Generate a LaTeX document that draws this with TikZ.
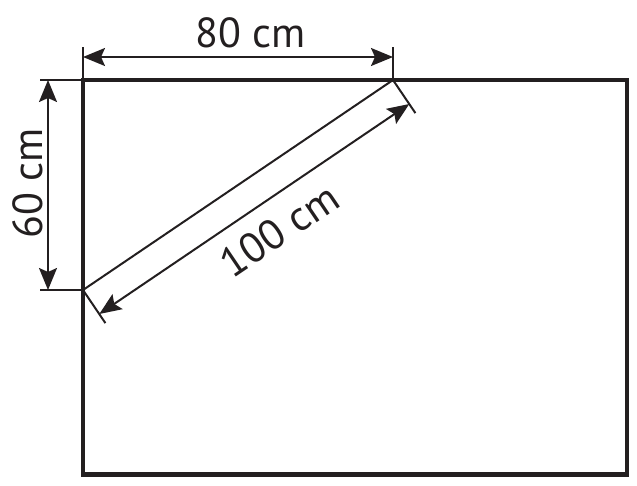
\documentclass[tikz,border=0pt]{standalone}
\usepackage{fontspec}
\setmainfont{PT Sans}
\usetikzlibrary{arrows.meta}
\definecolor{ink}{HTML}{231F20}
\tikzset{
  frame/.style={draw=ink, line width=4.5pt},
  dimline/.style={draw=ink, line width=2pt, {Stealth[length=22pt,width=18pt,inset=4pt]}-{Stealth[length=22pt,width=18pt,inset=4pt]}},
  extline/.style={draw=ink, line width=2pt},
  lbl/.style={text=ink, font=\fontsize{42}{42}\selectfont, inner sep=0pt}
}
\begin{document}
\begin{tikzpicture}[x=1pt,y=-1pt]
\useasboundingbox (0,0) rectangle (637,485);
% rectangle corners
\coordinate (TL) at (83,80);
\coordinate (BR) at (627,474.5);
\coordinate (A) at (83,290);
\coordinate (B) at (393,80);
\draw[frame] (TL) rectangle (BR);
% diagonal
\draw[extline] (A) -- (B);
% top dimension
\coordinate (T1) at (83,47);
\coordinate (T2) at (393,47);
\coordinate (TA) at (83,57);
\coordinate (TB) at (393,57);
\draw[extline] (TL) -- (T1);
\draw[extline] (B) -- (T2);
\draw[dimline] (TA) -- (TB);
\node[lbl] (l80) at (251,33) {80 cm};
% left dimension
\coordinate (L1) at (40,80);
\coordinate (L2) at (40,290);
\coordinate (LA) at (48,80);
\coordinate (LB) at (48,290);
\draw[extline] (TL) -- (L1);
\draw[extline] (A) -- (L2);
\draw[dimline] (LA) -- (LB);
\node[lbl, rotate=90] (l60) at (28,183) {60 cm};
% diagonal dimension
\coordinate (E1) at (105.4,323.1);
\coordinate (E2) at (415.4,113.1);
\coordinate (DA) at (99.3,314);
\coordinate (DB) at (409.3,104);
\draw[extline] (A) -- (E1);
\draw[extline] (B) -- (E2);
\draw[dimline] (DA) -- (DB);
\node[lbl, rotate=34.1] (l100) at (279,230) {100 cm};
\end{tikzpicture}
\end{document}
